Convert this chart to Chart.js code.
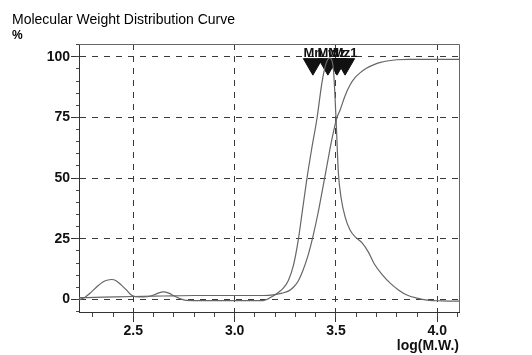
<!DOCTYPE html>
<html>
<head>
<meta charset="utf-8">
<script src="https://cdn.jsdelivr.net/npm/chart.js@4"></script>
<style>
  html, body { margin: 0; padding: 0; background: #fff; }
  #wrap { width: 532px; height: 355px; position: relative; }
</style>
</head>
<body>
<div id="wrap"><canvas id="chartCanvas"></canvas></div>
<script>
// log(M.W.) positions and % values
const diffX = [2.232, 2.26, 2.29, 2.32, 2.35, 2.37, 2.393, 2.415, 2.44, 2.467, 2.49, 2.51, 2.55, 2.59, 2.62, 2.648, 2.675, 2.70, 2.73, 2.76, 2.85, 3.0, 3.14, 3.165, 3.19, 3.215, 3.24, 3.265, 3.29, 3.313, 3.335, 3.357, 3.38, 3.407, 3.43, 3.45, 3.468, 3.486, 3.50, 3.512, 3.525, 3.545, 3.57, 3.595, 3.63, 3.66, 3.69, 3.73, 3.77, 3.81, 3.85, 3.9, 3.95, 4.02, 4.107];
const diffY = [-0.2, 0.8, 2.8, 5.2, 7.2, 7.9, 8.2, 7.7, 6.0, 3.8, 1.8, 1.1, 1.0, 1.5, 2.5, 3.1, 2.6, 1.5, 0.3, -0.4, -0.5, -0.5, -0.5, 0.2, 1.4, 2.8, 4.6, 7.8, 14, 24, 37, 50, 62, 75, 89, 97, 99.5, 96, 75, 52, 42, 34, 28.5, 25.8, 23.2, 19.5, 14.5, 10, 6.5, 3.8, 1.8, 0.5, -0.3, -0.6, -0.7];

const cumX = [2.232, 2.35, 2.5, 2.65, 2.8, 3.0, 3.14, 3.2, 3.235, 3.265, 3.29, 3.313, 3.335, 3.36, 3.385, 3.41, 3.435, 3.455, 3.475, 3.49, 3.505, 3.52, 3.545, 3.57, 3.595, 3.62, 3.65, 3.685, 3.72, 3.76, 3.8, 3.86, 3.95, 4.107];
const cumY = [0.7, 0.9, 1.2, 1.4, 1.6, 1.6, 1.6, 2.0, 2.6, 3.4, 5.0, 7.5, 11.5, 17.5, 25.5, 35, 46, 55, 64, 70, 75, 78, 84, 88.5, 91.5, 93.5, 95.3, 96.7, 97.7, 98.4, 98.8, 99.0, 99.0, 99.0];

const markerNames = ['Mn', 'Mw', 'Mz', 'Mz1'];
const markerX = [3.386, 3.460, 3.505, 3.545];
const markerLevel = 97;

const xMajor = [2.5, 3.0, 3.5, 4.0];
const xMinor = [2.3, 2.4, 2.5, 2.6, 2.7, 2.8, 2.9, 3.0, 3.1, 3.2, 3.3, 3.4, 3.5, 3.6, 3.7, 3.8, 3.9, 4.0, 4.1];
const yMajor = [0, 25, 50, 75, 100];
const yMinor = [-5, 0, 5, 10, 15, 20, 25, 30, 35, 40, 45, 50, 55, 60, 65, 70, 75, 80, 85, 90, 95, 100, 105];

const xMin = 2.232, xMax = 4.107;
const yMin = -5.2, yMax = 105.3;

const FONT = "'Liberation Sans', Arial, sans-serif";
Chart.defaults.font.family = FONT;
Chart.defaults.color = '#111';

// top and right sides of the plot box
const frame = {
  id: 'frame',
  beforeDatasetsDraw(chart) {
    const { ctx, chartArea: a } = chart;
    ctx.save();
    ctx.strokeStyle = '#666';
    ctx.lineWidth = 1;
    ctx.beginPath();
    ctx.moveTo(a.left, a.top + 0.5);
    ctx.lineTo(a.right + 0.5, a.top + 0.5);
    ctx.lineTo(a.right + 0.5, a.bottom);
    ctx.stroke();
    ctx.restore();
  }
};

const markerLabels = {
  id: 'markerLabels',
  afterDatasetsDraw(chart) {
    const meta = chart.getDatasetMeta(2);
    const ctx = chart.ctx;
    const base = chart.scales.y.getPixelForValue(100) + 0.5;
    ctx.save();
    ctx.font = 'bold 13px ' + FONT;
    ctx.fillStyle = '#111';
    ctx.textAlign = 'center';
    ctx.textBaseline = 'alphabetic';
    meta.data.forEach((pt, i) => ctx.fillText(markerNames[i], pt.x, base));
    ctx.restore();
  }
};

const gridColor = '#3a3a3a';

new Chart(document.getElementById('chartCanvas'), {
  type: 'line',
  data: {
    datasets: [
      {
        label: 'Differential',
        data: diffX.map((x, i) => ({ x: x, y: diffY[i] })),
        borderColor: '#666',
        borderWidth: 1.2,
        pointRadius: 0,
        cubicInterpolationMode: 'monotone',
        fill: false
      },
      {
        label: 'Cumulative',
        data: cumX.map((x, i) => ({ x: x, y: cumY[i] })),
        borderColor: '#666',
        borderWidth: 1.2,
        pointRadius: 0,
        cubicInterpolationMode: 'monotone',
        fill: false
      },
      {
        label: 'Averages',
        type: 'scatter',
        data: markerX.map(x => ({ x: x, y: markerLevel })),
        showLine: false,
        pointStyle: 'triangle',
        pointRotation: 180,
        pointRadius: 11,
        pointBorderWidth: 1,
        pointBackgroundColor: '#111',
        pointBorderColor: '#111'
      }
    ]
  },
  options: {
    responsive: true,
    maintainAspectRatio: false,
    animation: false,
    layout: { padding: { left: 12, right: 73, top: 0, bottom: 0 } },
    plugins: {
      legend: { display: false },
      tooltip: { enabled: false },
      title: {
        display: true,
        text: 'Molecular Weight Distribution Curve',
        align: 'start',
        color: '#000',
        font: { size: 14, weight: 'normal' },
        padding: { top: 11.6, bottom: 0.4 }
      },
      subtitle: {
        display: true,
        text: '%',
        align: 'start',
        color: '#000',
        font: { size: 12, weight: 'bold' },
        padding: { top: 0, bottom: 0.8 }
      }
    },
    scales: {
      x: {
        type: 'linear',
        position: 'bottom',
        min: xMin,
        max: xMax,
        afterBuildTicks: s => { s.ticks = xMajor.map(v => ({ value: v })); },
        afterFit: s => { s.height = 43; },
        ticks: {
          padding: 1,
          maxRotation: 0,
          autoSkip: false,
          color: '#111',
          font: { size: 14, weight: 'bold' },
          callback: v => Number(v).toFixed(1)
        },
        grid: { color: gridColor, lineWidth: 1, tickLength: 10, tickColor: '#333', tickBorderDash: [] },
        border: { display: true, color: '#333', width: 1, dash: [6, 6] },
        title: {
          display: true,
          text: 'log(M.W.)',
          align: 'end',
          color: '#111',
          font: { size: 14, weight: 'bold' },
          padding: { top: 0, bottom: 0 }
        }
      },
      y: {
        type: 'linear',
        position: 'left',
        min: yMin,
        max: yMax,
        afterBuildTicks: s => { s.ticks = yMajor.map(v => ({ value: v })); },
        afterFit: s => { s.width = 67; },
        ticks: {
          padding: 1,
          autoSkip: false,
          color: '#111',
          font: { size: 14, weight: 'bold' },
          callback: v => String(v)
        },
        grid: { color: gridColor, lineWidth: 1, tickLength: 8, tickColor: '#333', tickBorderDash: [] },
        border: { display: true, color: '#333', width: 1, dash: [6, 6] }
      },
      // short minor tick marks, pinned to the plot edges
      xm: {
        type: 'linear',
        position: { y: yMin },
        min: xMin,
        max: xMax,
        afterBuildTicks: s => { s.ticks = xMinor.map(v => ({ value: v })); },
        ticks: { display: false },
        grid: { drawOnChartArea: false, tickLength: 5, tickColor: '#444' },
        border: { display: false }
      },
      ym: {
        type: 'linear',
        position: { x: xMin },
        min: yMin,
        max: yMax,
        afterBuildTicks: s => { s.ticks = yMinor.map(v => ({ value: v })); },
        ticks: { display: false },
        grid: { drawOnChartArea: false, tickLength: 3, tickColor: '#444' },
        border: { display: false }
      }
    }
  },
  plugins: [frame, markerLabels]
});
</script>
</body>
</html>
